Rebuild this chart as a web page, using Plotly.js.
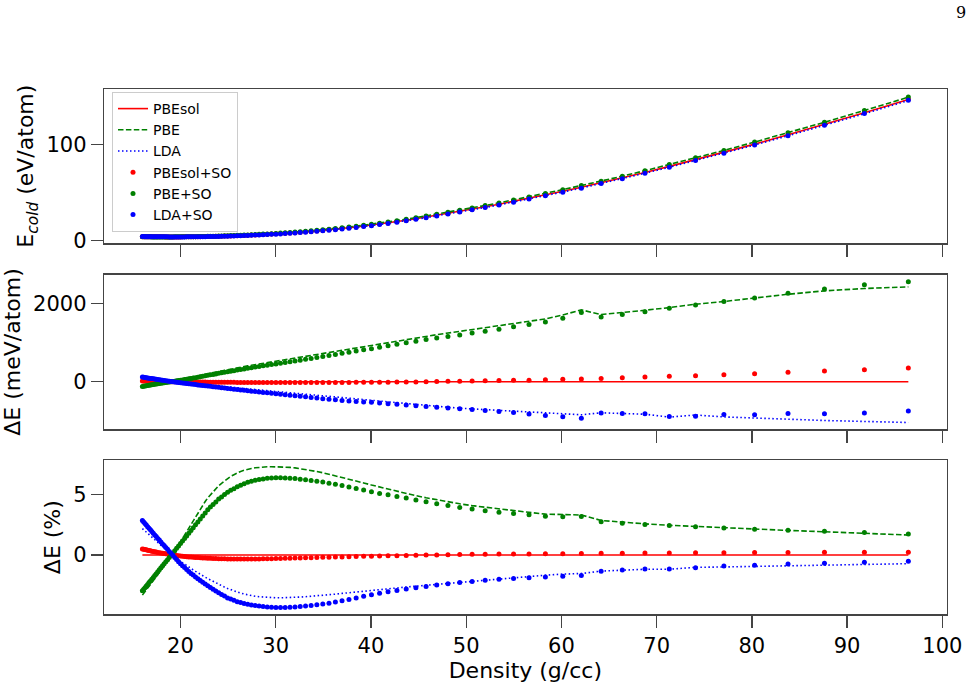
<!DOCTYPE html>
<html>
<head>
<meta charset="utf-8">
<script src="https://cdn.plot.ly/plotly-3.0.1.min.js"></script>
<style>
  html, body { margin: 0; padding: 0; background: #ffffff; }
  #chart { width: 974px; height: 689px; }
</style>
</head>
<body>
<div id="chart"></div>
<script>
// Densities of the cold-curve grid (g/cc)
const density = [
  16.000,16.135,16.271,16.411,16.552,16.696,16.843,16.992,17.144,17.299,
  17.456,17.616,17.780,17.946,18.115,18.288,18.464,18.644,18.827,19.013,
  19.204,19.398,19.596,19.798,20.004,20.215,20.431,20.651,20.875,21.105,
  21.340,21.580,21.825,22.077,22.334,22.597,22.866,23.142,23.424,23.714,
  24.011,24.315,24.627,24.948,25.276,25.614,25.960,26.316,26.683,27.059,
  27.446,27.845,28.255,28.677,29.112,29.561,30.024,30.501,30.994,31.503,
  32.029,32.573,33.135,33.718,34.321,34.946,35.595,36.268,36.966,37.693,
  38.448,39.235,40.054,40.908,41.799,42.730,43.704,44.723,45.790,46.910,
  48.086,49.323,50.624,51.996,53.445,54.977,56.599,58.319,60.148,62.095,
  64.173,66.394,68.774,71.331,74.086,77.063,80.288,83.795,87.623,91.817,
  96.432
];

// PBEsol cold energy (eV/atom), the reference functional
const ePBEsol = [
  4.150,4.136,4.123,4.109,4.095,4.080,4.066,4.051,4.040,4.029,
  4.018,4.007,3.995,3.984,3.976,3.971,3.966,3.961,3.955,3.950,
  3.954,3.958,3.962,3.966,3.970,3.988,4.004,4.022,4.040,4.064,
  4.094,4.125,4.158,4.195,4.243,4.294,4.345,4.405,4.475,4.548,
  4.623,4.716,4.809,4.905,5.018,5.134,5.256,5.398,5.542,5.697,
  5.873,6.053,6.245,6.446,6.657,6.891,7.131,7.404,7.699,8.024,
  8.381,8.765,9.192,9.650,10.149,10.700,11.293,11.940,12.649,13.414,
  14.262,15.185,16.173,17.277,18.473,19.783,21.214,22.790,24.513,26.351,
  28.327,30.432,32.713,35.200,37.896,40.831,44.028,47.509,51.315,55.498,
  60.105,65.226,70.884,77.156,84.068,91.697,100.284,109.904,120.655,132.811,
  146.570
];

// Relative deviation from PBEsol (%) for the other functionals
const pctPBE = [
  -3.30,-3.15,-3.02,-2.87,-2.72,-2.57,-2.42,-2.26,-2.11,-1.94,
  -1.78,-1.61,-1.45,-1.27,-1.10,-0.92,-0.74,-0.55,-0.36,-0.17,
  0.08,0.33,0.59,0.84,1.10,1.40,1.68,1.98,2.29,2.59,
  2.89,3.20,3.53,3.84,4.11,4.41,4.71,4.97,5.21,5.45,
  5.71,5.91,6.11,6.32,6.48,6.62,6.78,6.89,6.98,7.08,
  7.13,7.19,7.23,7.25,7.27,7.28,7.28,7.27,7.25,7.22,
  7.18,7.12,7.05,6.97,6.88,6.78,6.66,6.54,6.41,6.26,
  6.11,5.94,5.77,5.60,5.42,5.24,5.07,4.89,4.72,4.55,
  4.38,4.22,4.07,3.93,3.79,3.66,3.52,3.37,3.32,3.30,
  2.85,2.70,2.57,2.45,2.35,2.23,2.13,2.03,1.92,1.79,
  1.65
];
const pctLDA = [
  2.18,2.08,1.99,1.89,1.79,1.68,1.58,1.48,1.37,1.26,
  1.15,1.04,0.93,0.81,0.70,0.58,0.47,0.35,0.22,0.09,
  -0.02,-0.15,-0.27,-0.40,-0.52,-0.64,-0.75,-0.87,-0.99,-1.11,
  -1.22,-1.34,-1.47,-1.59,-1.70,-1.82,-1.94,-2.06,-2.17,-2.28,
  -2.40,-2.52,-2.64,-2.76,-2.86,-2.96,-3.06,-3.13,-3.21,-3.28,
  -3.33,-3.39,-3.43,-3.46,-3.49,-3.51,-3.52,-3.52,-3.52,-3.51,
  -3.49,-3.46,-3.43,-3.40,-3.36,-3.31,-3.27,-3.22,-3.16,-3.11,
  -3.04,-2.98,-2.92,-2.85,-2.78,-2.71,-2.63,-2.56,-2.48,-2.39,
  -2.30,-2.22,-2.13,-2.03,-1.94,-1.84,-1.75,-1.66,-1.57,-1.52,
  -1.32,-1.25,-1.17,-1.17,-1.01,-0.98,-0.93,-0.87,-0.82,-0.77,
  -0.71
];
const pctPBEsolSO = [
  0.50,0.47,0.45,0.43,0.40,0.37,0.35,0.32,0.30,0.27,
  0.25,0.22,0.20,0.17,0.14,0.12,0.10,0.08,0.05,0.03,
  0.01,-0.01,-0.04,-0.06,-0.08,-0.10,-0.11,-0.13,-0.15,-0.17,
  -0.18,-0.20,-0.21,-0.22,-0.24,-0.25,-0.26,-0.27,-0.28,-0.29,
  -0.30,-0.31,-0.31,-0.32,-0.32,-0.33,-0.33,-0.33,-0.33,-0.33,
  -0.33,-0.32,-0.32,-0.31,-0.31,-0.30,-0.29,-0.28,-0.27,-0.26,
  -0.25,-0.24,-0.23,-0.22,-0.20,-0.19,-0.18,-0.16,-0.15,-0.14,
  -0.12,-0.10,-0.09,-0.08,-0.06,-0.05,-0.03,-0.02,0.00,0.01,
  0.03,0.04,0.06,0.07,0.08,0.09,0.09,0.107,0.117,0.123,
  0.141,0.156,0.168,0.177,0.182,0.195,0.204,0.217,0.226,0.231,
  0.238
];
const pctPBESO = [
  -2.95,-2.81,-2.69,-2.55,-2.42,-2.27,-2.14,-1.99,-1.84,-1.69,
  -1.53,-1.37,-1.22,-1.05,-0.88,-0.72,-0.55,-0.38,-0.20,-0.02,
  0.17,0.36,0.56,0.75,0.95,1.16,1.37,1.58,1.80,2.03,
  2.25,2.49,2.73,2.98,3.21,3.47,3.73,3.96,4.17,4.38,
  4.61,4.79,4.98,5.17,5.33,5.47,5.63,5.76,5.87,5.99,
  6.08,6.16,6.22,6.27,6.32,6.34,6.36,6.36,6.35,6.33,
  6.30,6.25,6.21,6.15,6.08,6.01,5.92,5.83,5.72,5.61,
  5.48,5.35,5.21,5.08,4.96,4.83,4.69,4.54,4.39,4.23,
  4.08,3.92,3.79,3.65,3.53,3.43,3.32,3.20,3.15,3.18,
  2.75,2.63,2.52,2.43,2.33,2.23,2.13,2.05,1.96,1.86,
  1.74
];
const pctLDASO = [
  2.85,2.72,2.60,2.47,2.34,2.21,2.08,1.94,1.80,1.66,
  1.52,1.37,1.23,1.08,0.92,0.78,0.63,0.47,0.30,0.14,
  -0.02,-0.20,-0.37,-0.55,-0.72,-0.88,-1.03,-1.20,-1.36,-1.52,
  -1.65,-1.80,-1.95,-2.09,-2.23,-2.38,-2.53,-2.67,-2.81,-2.96,
  -3.10,-3.24,-3.38,-3.53,-3.63,-3.73,-3.84,-3.91,-3.99,-4.06,
  -4.11,-4.16,-4.20,-4.24,-4.27,-4.29,-4.31,-4.31,-4.31,-4.29,
  -4.27,-4.24,-4.20,-4.15,-4.10,-4.04,-3.96,-3.87,-3.77,-3.66,
  -3.53,-3.40,-3.26,-3.14,-3.03,-2.91,-2.80,-2.69,-2.58,-2.47,
  -2.36,-2.26,-2.17,-2.08,-2.00,-1.93,-1.87,-1.81,-1.74,-1.68,
  -1.33,-1.24,-1.15,-1.15,-1.05,-0.91,-0.84,-0.74,-0.68,-0.60,
  -0.51
];

const xTicks = [20, 30, 40, 50, 60, 70, 80, 90, 100];

// Absolute cold energies of each functional (eV/atom)
const withDeviation = pct => ePBEsol.map((e, i) => e * (1 + pct[i] / 100));
const energy = {
  'PBEsol': ePBEsol,
  'PBE': withDeviation(pctPBE),
  'LDA': withDeviation(pctLDA),
  'PBEsol+SO': withDeviation(pctPBEsolSO),
  'PBE+SO': withDeviation(pctPBESO),
  'LDA+SO': withDeviation(pctLDASO)
};
// Differences from PBEsol in meV/atom and in percent
const diffMeV = e => e.map((v, i) => (v - ePBEsol[i]) * 1000);
const diffPct = e => e.map((v, i) => (v - ePBEsol[i]) / ePBEsol[i] * 100);

// Drawing styles: lines for scalar-relativistic, dots for spin-orbit runs
const styles = [
  { name: 'PBEsol',    mode: 'lines',   color: '#ff0000', dash: 'solid' },
  { name: 'PBE',       mode: 'lines',   color: '#008000', dash: '5.5px,2.4px' },
  { name: 'LDA',       mode: 'lines',   color: '#0000ff', dash: '1.5px,2.5px' },
  { name: 'PBEsol+SO', mode: 'markers', color: '#ff0000' },
  { name: 'PBE+SO',    mode: 'markers', color: '#008000' },
  { name: 'LDA+SO',    mode: 'markers', color: '#0000ff' }
];

const panels = [
  { xa: 'x',  ya: 'y',  values: e => e },
  { xa: 'x2', ya: 'y2', values: diffMeV },
  { xa: 'x3', ya: 'y3', values: diffPct }
];

const traces = [];
panels.forEach((p, k) => {
  styles.forEach(s => {
    const t = {
      type: 'scatter',
      x: density,
      y: p.values(energy[s.name]),
      name: s.name,
      legendgroup: s.name,
      showlegend: k === 0,
      mode: s.mode,
      xaxis: p.xa,
      yaxis: p.ya,
      hoverinfo: 'skip'
    };
    if (s.mode === 'lines') {
      t.line = { color: s.color, width: 1.6, dash: s.dash };
    } else {
      t.marker = { color: s.color, size: 5, line: { width: 0 } };
    }
    traces.push(t);
  });
});

const W = 974, H = 689;
const xDom = [104 / W, 946.7 / W];
const frame = {
  showline: true, mirror: true, linecolor: '#444', linewidth: 1.3,
  showgrid: false, zeroline: false,
  ticks: 'outside', ticklen: 12, tickwidth: 1.3, tickcolor: '#444',
  tickfont: { family: 'DejaVu Sans', size: 21, color: '#000' },
  automargin: false
};
const xAxis = (anchor, labels) => Object.assign({}, frame, {
  domain: xDom, anchor: anchor, range: [11.97, 100.46],
  tickmode: 'array', tickvals: xTicks, showticklabels: labels
});
const yAxis = (anchor, dom, range, ticks, title) => Object.assign({}, frame, {
  domain: dom, anchor: anchor, range: range,
  tickmode: 'array', tickvals: ticks,
  title: { text: title, font: { family: 'DejaVu Sans', size: 22, color: '#000' }, standoff: 6 }
});

const layout = {
  width: W, height: H,
  margin: { l: 0, r: 0, t: 0, b: 0 },
  paper_bgcolor: '#ffffff', plot_bgcolor: '#ffffff',
  font: { family: 'DejaVu Sans', color: '#000' },
  xaxis:  xAxis('y', false),
  xaxis2: xAxis('y2', false),
  xaxis3: Object.assign(xAxis('y3', true), {
    title: { text: 'Density (g/cc)', font: { family: 'DejaVu Sans', size: 22, color: '#000' }, standoff: 4 }
  }),
  yaxis:  yAxis('x',  [1 - 243.3 / H, 1 - 89 / H],    [-2.7, 157.5],   [0, 100],  'E<sub><i>cold</i></sub> (eV/atom)'),
  yaxis2: yAxis('x2', [1 - 429.3 / H, 1 - 274.7 / H], [-1214, 2729],   [0, 2000], 'ΔE (meV/atom)'),
  yaxis3: yAxis('x3', [1 - 614.3 / H, 1 - 460 / H],   [-4.88, 7.83],   [0, 5],    'ΔE (%)'),
  showlegend: true,
  legend: {
    x: 112 / W, y: 1 - 92 / H, xanchor: 'left', yanchor: 'top',
    bgcolor: 'rgba(255,255,255,0.85)', bordercolor: '#cccccc', borderwidth: 1,
    font: { family: 'DejaVu Sans', size: 14, color: '#000' },
    tracegroupgap: 0, itemwidth: 30
  },
  annotations: [{
    text: '9', xref: 'paper', yref: 'paper', x: 968 / W, y: 1 - 12 / H,
    xanchor: 'right', yanchor: 'middle', showarrow: false,
    font: { family: 'DejaVu Serif', size: 16, color: '#000' }
  }]
};

Plotly.newPlot('chart', traces, layout, { staticPlot: true, displayModeBar: false });
</script>
</body>
</html>
